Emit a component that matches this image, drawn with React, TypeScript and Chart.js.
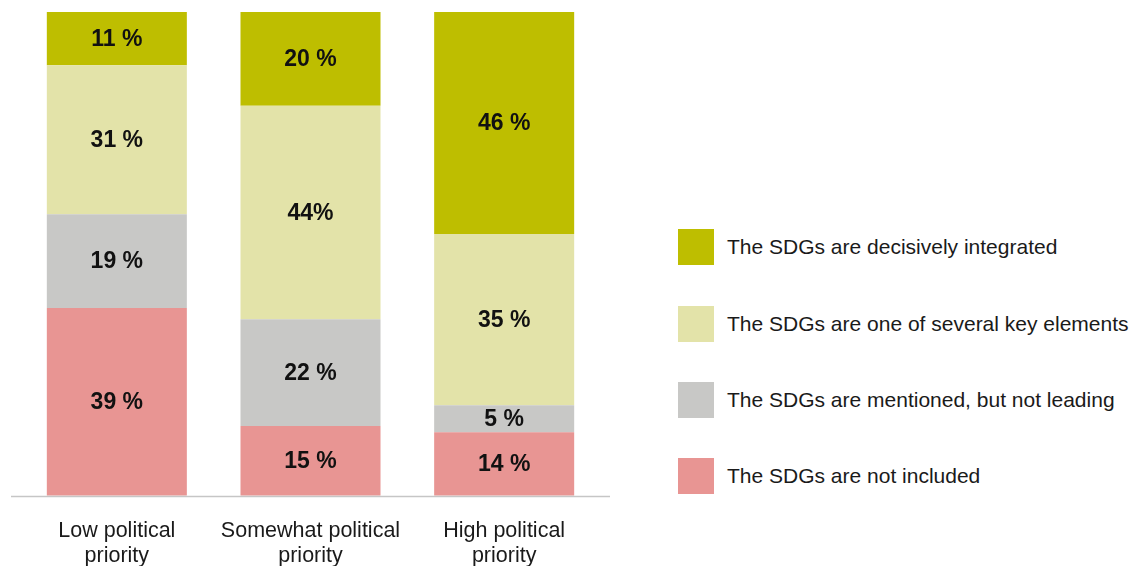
import React, { useEffect, useRef } from "react";
import { Chart, registerables } from "chart.js";

Chart.register(...registerables);

const categories: string[][] = [
  ["Low political", "priority"],
  ["Somewhat political", "priority"],
  ["High political", "priority"],
];

const seriesNames = [
  "The SDGs are decisively integrated",
  "The SDGs are one of several key elements",
  "The SDGs are mentioned, but not leading",
  "The SDGs are not included",
];

const seriesColors = ["#BEBE00", "#E3E3A9", "#C8C8C6", "#E89593"];

// values (share of bar height), bottom-to-top stacking order: not included, mentioned, key element, decisive
const notIncluded = [38.8, 14.4, 13.1];
const mentioned = [19.4, 22.1, 5.6];
const keyElement = [30.8, 44.1, 35.4];
const decisive = [11.0, 19.4, 45.9];

// printed labels
const notIncludedLabels = ["39 %", "15 %", "14 %"];
const mentionedLabels = ["19 %", "22 %", "5 %"];
const keyElementLabels = ["31 %", "44%", "35 %"];
const decisiveLabels = ["11 %", "20 %", "46 %"];

const FONT = "'Liberation Sans', Arial, Helvetica, sans-serif";

const barLabelPlugin = {
  id: "barLabels",
  afterDatasetsDraw(chart: any) {
    const ctx = chart.ctx;
    ctx.save();
    ctx.font = `bold 23px ${FONT}`;
    ctx.fillStyle = "#111111";
    ctx.textAlign = "center";
    ctx.textBaseline = "middle";
    chart.data.datasets.forEach((ds: any, di: number) => {
      const meta = chart.getDatasetMeta(di);
      meta.data.forEach((el: any, i: number) => {
        const p = el.getCenterPoint();
        ctx.fillText(ds.labelsText[i], p.x, p.y + 1);
      });
    });
    ctx.restore();
  },
};

const axisLinePlugin = {
  id: "axisLine",
  afterDatasetsDraw(chart: any) {
    const { ctx, chartArea } = chart;
    const y = chart.scales.y.getPixelForValue(0);
    ctx.save();
    ctx.strokeStyle = "#C6C6C6";
    ctx.lineWidth = 1.5;
    ctx.beginPath();
    ctx.moveTo(chartArea.left - 9, y + 0.75);
    ctx.lineTo(chartArea.right + 9, y + 0.75);
    ctx.stroke();
    ctx.restore();
  },
};

export default function App() {
  const ref = useRef<HTMLCanvasElement | null>(null);

  useEffect(() => {
    if (!ref.current) return;
    const chart = new Chart(ref.current, {
      type: "bar",
      data: {
        labels: categories as any,
        datasets: [
          { label: seriesNames[3], data: notIncluded, backgroundColor: seriesColors[3], labelsText: notIncludedLabels } as any,
          { label: seriesNames[2], data: mentioned, backgroundColor: seriesColors[2], labelsText: mentionedLabels } as any,
          { label: seriesNames[1], data: keyElement, backgroundColor: seriesColors[1], labelsText: keyElementLabels } as any,
          { label: seriesNames[0], data: decisive, backgroundColor: seriesColors[0], labelsText: decisiveLabels } as any,
        ],
      },
      options: {
        animation: false,
        responsive: false,
        maintainAspectRatio: false,
        layout: { padding: { left: 20, right: 39, top: 12, bottom: 0 } },
        datasets: { bar: { barPercentage: 0.723, categoryPercentage: 1, borderWidth: 0 } },
        plugins: { legend: { display: false }, tooltip: { enabled: false } },
        scales: {
          x: {
            stacked: true,
            grid: { display: false, drawTicks: false },
            border: { display: false },
            ticks: {
              color: "#1A1A1A",
              font: { family: FONT, size: 21.5, lineHeight: 1.17 },
              padding: 23,
              maxRotation: 0,
              autoSkip: false,
            },
          },
          y: {
            stacked: true,
            display: false,
            min: 0,
            max: 100,
          },
        },
      },
      plugins: [barLabelPlugin, axisLinePlugin],
    });
    return () => chart.destroy();
  }, []);

  const legendTops = [229, 306, 382, 458];

  return (
    <div style={{ position: "absolute", left: 0, top: 0, width: 1132, height: 566, background: "#fff", overflow: "hidden" }}>
      <canvas ref={ref} width={640} height={592} style={{ position: "absolute", left: 0, top: 0, width: 640, height: 592 }} />
      {seriesNames.map((name, i) => (
        <div
          key={name}
          style={{ position: "absolute", left: 678, top: legendTops[i], height: 36, display: "flex", alignItems: "center", whiteSpace: "nowrap" }}
        >
          <div style={{ width: 36, height: 36, background: seriesColors[i], flex: "none" }} />
          <span style={{ marginLeft: 13, fontFamily: FONT, fontSize: 21, color: "#1A1A1A", lineHeight: "36px" }}>{name}</span>
        </div>
      ))}
    </div>
  );
}
